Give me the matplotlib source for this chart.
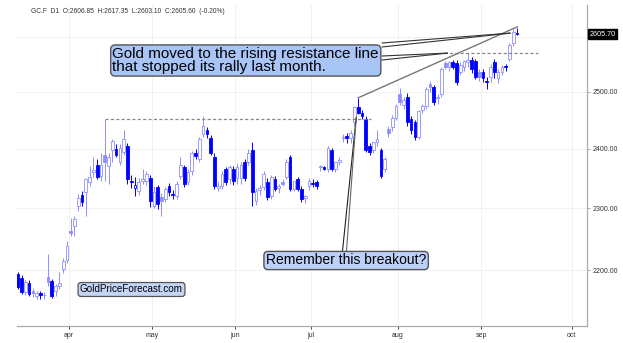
import numpy as np
import pandas as pd
import matplotlib
matplotlib.use("Agg")
import matplotlib.pyplot as plt
from matplotlib.patches import ConnectionPatch
from matplotlib.ticker import FixedLocator, FixedFormatter, NullLocator

plt.rcParams["font.family"] = ["Liberation Sans", "DejaVu Sans"]

# ----------------------------------------------------------
# Data: GC.F daily candles, 11 Mar - 16 Sep 2024
# ----------------------------------------------------------
holidays = ["2024-03-29", "2024-05-27", "2024-09-02"]
dates = pd.bdate_range("2024-03-11", "2024-09-16")
dates = dates[~dates.isin(pd.to_datetime(holidays))]

opens = [
    2194, 2188, 2166, 2180, 2167, 2160, 2164, 2161, 2189, 2183,
    2167, 2175, 2202, 2217, 2263, 2271, 2303, 2322, 2327, 2343,
    2360, 2372, 2353, 2390, 2370, 2398, 2400, 2377, 2395, 2404,
    2346, 2333, 2328, 2345, 2345, 2350, 2303, 2335, 2318, 2315,
    2337, 2324, 2320, 2353, 2368, 2343, 2362, 2393, 2382, 2425,
    2432, 2419, 2385, 2334, 2337, 2365, 2348, 2365, 2350, 2350,
    2377, 2377, 2398, 2312, 2330, 2335, 2343, 2320, 2348, 2333,
    2343, 2352, 2385, 2332, 2348, 2332, 2316, 2336, 2342, 2343,
    2368, 2368, 2365, 2398, 2365, 2378, 2419, 2422, 2419, 2446,
    2472, 2463, 2451, 2405, 2398, 2411, 2398, 2365, 2434, 2437,
    2454, 2495, 2477, 2491, 2451, 2446, 2421, 2468, 2474, 2514,
    2509, 2489, 2495, 2551, 2545, 2553, 2552, 2536, 2545, 2553,
    2558, 2555, 2536, 2535, 2520, 2527, 2553, 2525, 2535, 2547,
    2560, 2589, 2606.85,
]
highs = [
    2197, 2192, 2185, 2184, 2172, 2168, 2168, 2166, 2226, 2186,
    2178, 2198, 2219, 2247, 2284, 2287, 2323, 2328, 2350, 2370,
    2385, 2382, 2393, 2451, 2393, 2416, 2408, 2408, 2433, 2410,
    2355, 2352, 2350, 2365, 2362, 2356, 2337, 2338, 2325, 2335,
    2342, 2330, 2345, 2385, 2372, 2365, 2396, 2400, 2420, 2456,
    2438, 2424, 2392, 2345, 2362, 2368, 2372, 2370, 2375, 2377,
    2382, 2400, 2411, 2333, 2338, 2362, 2350, 2356, 2353, 2340,
    2348, 2382, 2390, 2345, 2352, 2336, 2322, 2350, 2348, 2347,
    2372, 2371, 2405, 2402, 2378, 2385, 2425, 2428, 2432, 2475,
    2489, 2468, 2456, 2410, 2412, 2433, 2402, 2385, 2440, 2458,
    2478, 2507, 2490, 2498, 2456, 2450, 2468, 2478, 2508, 2520,
    2512, 2495, 2545, 2555, 2556, 2558, 2558, 2553, 2558, 2570,
    2563, 2560, 2540, 2540, 2526, 2550, 2560, 2540, 2548, 2550,
    2588, 2614, 2617.35,
]
lows = [
    2170, 2163, 2162, 2160, 2158, 2155, 2156, 2155, 2176, 2157,
    2160, 2170, 2196, 2212, 2254, 2255, 2295, 2303, 2287, 2337,
    2352, 2348, 2345, 2345, 2340, 2378, 2385, 2372, 2390, 2340,
    2333, 2320, 2322, 2340, 2338, 2302, 2300, 2298, 2287, 2310,
    2320, 2315, 2315, 2348, 2335, 2338, 2355, 2383, 2378, 2420,
    2418, 2390, 2332, 2328, 2332, 2338, 2340, 2338, 2340, 2340,
    2345, 2372, 2303, 2305, 2322, 2330, 2313, 2315, 2328, 2325,
    2336, 2348, 2328, 2328, 2328, 2310, 2308, 2330, 2335, 2332,
    2362, 2364, 2360, 2362, 2360, 2372, 2412, 2410, 2410, 2440,
    2460, 2452, 2395, 2390, 2392, 2405, 2350, 2360, 2420, 2430,
    2450, 2476, 2470, 2440, 2425, 2415, 2416, 2462, 2470, 2500,
    2476, 2478, 2490, 2540, 2538, 2540, 2512, 2530, 2538, 2545,
    2533, 2522, 2520, 2518, 2504, 2518, 2525, 2515, 2530, 2537,
    2555, 2583, 2603.10,
]
closes = [
    2174, 2166, 2181, 2163, 2164, 2165, 2161, 2162, 2182, 2160,
    2175, 2180, 2215, 2239, 2259, 2282, 2317, 2310, 2348, 2352,
    2363, 2352, 2373, 2377, 2385, 2413, 2390, 2402, 2416, 2348,
    2343, 2338, 2343, 2349, 2357, 2312, 2327, 2307, 2312, 2332,
    2327, 2322, 2340, 2373, 2340, 2360, 2393, 2387, 2416, 2439,
    2425, 2393, 2337, 2337, 2357, 2343, 2368, 2345, 2368, 2373,
    2350, 2393, 2327, 2328, 2333, 2357, 2318, 2352, 2332, 2337,
    2340, 2377, 2332, 2345, 2332, 2315, 2320, 2345, 2340, 2337,
    2370, 2366, 2402, 2365, 2377, 2380, 2421, 2419, 2428, 2472,
    2463, 2456, 2398, 2395, 2411, 2416, 2353, 2382, 2428, 2454,
    2474, 2481, 2486, 2446, 2432, 2421, 2465, 2474, 2504, 2508,
    2481, 2491, 2540, 2544, 2553, 2545, 2518, 2549, 2555, 2558,
    2540, 2527, 2527, 2525, 2517, 2545, 2536, 2536, 2545, 2544,
    2585, 2609, 2605.60,
]

price_ticks = [2200, 2300, 2400, 2500, 2600]
price_labels = ["2200.00", "2300.00", "2400.00", "2500.00", ""]
month_starts = ["2024-04-01", "2024-05-01", "2024-06-01", "2024-07-01",
                "2024-08-01", "2024-09-01", "2024-10-01"]
month_labels = ["apr", "may", "jun", "jul", "aug", "sep", "oct"]

header = "GC.F  D1  O:2606.85  H:2617.35  L:2603.10  C:2605.60  (-0.20%)"
last_label = "2605.70"

# ----------------------------------------------------------
# Figure
# ----------------------------------------------------------
W, H = 623, 343


def fx(px):
    return px / W


def fy(py):
    return 1 - py / H


fig = plt.figure(figsize=(W / 100, H / 100), dpi=100)
ax = fig.add_axes([fx(17), fy(326), fx(587) - fx(17), fy(5) - fy(326)])

o = np.asarray(opens)
h = np.asarray(highs)
l = np.asarray(lows)
c = np.asarray(closes)
idx = np.arange(len(c))

prev = np.r_[c[0] + 1, c[:-1]]
down = c < prev
colors = np.where(down, "#0000ff", "#8e8eff")
filled = c < o

ax.vlines(idx, l, h, colors=colors, lw=0.7, zorder=2)
ax.bar(
    idx,
    np.maximum(np.abs(c - o), 0.8),
    bottom=np.minimum(o, c),
    width=0.72,
    color=np.where(filled, colors, "white"),
    edgecolor=colors,
    linewidth=0.6,
    zorder=3,
)

ax.set_yscale("log")
ax.set_ylim(2114, 2660)
ax.set_xlim(-0.2, 150.5)

# month ticks (future dates use calendar days)
last_date = dates[-1]
tick_pos = []
for m in month_starts:
    d = pd.Timestamp(m)
    if d <= last_date:
        tick_pos.append(np.searchsorted(dates, d) - 0.5)
    else:
        tick_pos.append(len(dates) - 1 + (d - last_date).days - 0.5)

ax.xaxis.set_major_locator(FixedLocator(tick_pos))
ax.xaxis.set_major_formatter(FixedFormatter(month_labels))
ax.yaxis.set_major_locator(FixedLocator(price_ticks))
ax.yaxis.set_major_formatter(FixedFormatter(price_labels))
ax.yaxis.set_minor_locator(NullLocator())
ax.yaxis.tick_right()

ax.tick_params(axis="both", labelsize=5, colors="#333333", length=2.5,
               width=0.6, pad=1.5)
ax.tick_params(axis="y", color="#999999")
ax.tick_params(axis="x", color="#222222")

ax.grid(True, color="#efefef", lw=0.6, zorder=0)
for side in ["left", "top"]:
    ax.spines[side].set_visible(False)
for side in ["right", "bottom"]:
    ax.spines[side].set_color("#aaaaaa")
    ax.spines[side].set_linewidth(0.9)

# ----------------------------------------------------------
# Support / resistance lines
# ----------------------------------------------------------
apr_i = int(np.argmax(h[:40]))
jul_i = 60 + int(np.argmax(h[60:100]))
aug_i = 100 + int(np.argmax(h[100:128]))
last_i = len(c) - 1

ax.plot([apr_i, jul_i + 3.4], [h[apr_i], h[apr_i]], ls=(0, (2.5, 1.8)),
        color="#888888", lw=0.9, zorder=4)
ax.plot([aug_i - 6.3, last_i + 5.6], [h[aug_i], h[aug_i]], ls=(0, (2.5, 1.8)),
        color="#888888", lw=0.9, zorder=4)
ax.plot([jul_i, last_i + 0.1], [h[jul_i], h[last_i] + 1.5], color="#777777",
        lw=1.0, zorder=4)

# ----------------------------------------------------------
# Call-out boxes
# ----------------------------------------------------------
fig.text(fx(112.5), fy(60.5),
         "Gold moved to the rising resistance line\nthat stopped its rally last month.",
         fontsize=11, ha="left", va="center", linespacing=0.95, zorder=10,
         bbox=dict(boxstyle="round,pad=0.12,rounding_size=0.3",
                   fc="#a9c4f6", ec="#555555", lw=1.0))

fig.text(fx(266), fy(260.5), "Remember this breakout?",
         fontsize=10, ha="left", va="center", zorder=10,
         bbox=dict(boxstyle="round,pad=0.15,rounding_size=0.3",
                   fc="#bcd0f8", ec="#555555", lw=1.0))

fig.text(fx(80), fy(289.5), "GoldPriceForecast.com",
         fontsize=7.1, ha="left", va="center", zorder=10,
         bbox=dict(boxstyle="round,pad=0.2,rounding_size=0.3",
                   fc="#c4d5f6", ec="#555555", lw=0.9))


def leader(start_px, target, color="#333333", lw=0.8):
    con = ConnectionPatch(xyA=(fx(start_px[0]), fy(start_px[1])),
                          coordsA="figure fraction",
                          xyB=target, coordsB="data", axesB=ax,
                          color=color, lw=lw, zorder=9)
    fig.add_artist(con)


top_target = (last_i - 1.8, 2607)
aug_target = (aug_i - 5.4, h[aug_i])
brk_target = (jul_i - 0.5, 2455)

leader((382, 43), top_target)
leader((382, 47), top_target)
leader((382, 56), aug_target)
leader((382, 60), aug_target)
leader((342.5, 251), brk_target, color="#222222", lw=0.8)
leader((346.5, 251), brk_target, color="#666666", lw=0.8)

# ----------------------------------------------------------
# Header and last price label
# ----------------------------------------------------------
fig.text(fx(31), fy(11.5), header, fontsize=4.8, color="#333333",
         ha="left", va="center")
fig.text(fx(589.5), fy(34), last_label, fontsize=5.2, color="white",
         ha="left", va="center", zorder=11,
         bbox=dict(boxstyle="square,pad=0.25", fc="black", ec="black"))

fig.savefig("out.png", dpi=100)
